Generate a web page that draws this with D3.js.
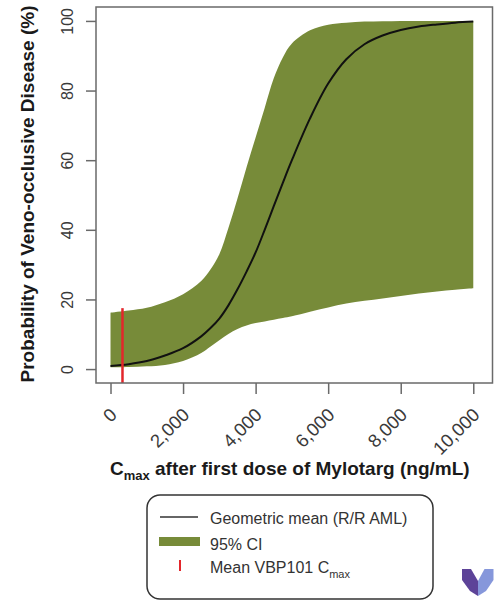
<!DOCTYPE html>
<html>
<head>
<meta charset="utf-8">
<script src="https://cdn.jsdelivr.net/npm/d3@7/dist/d3.min.js"></script>
<style>
  html, body { margin: 0; padding: 0; background: #fff; }
  svg { display: block; font-family: "Liberation Sans", Arial, sans-serif; }
</style>
</head>
<body>
<svg id="chart" width="503" height="601"></svg>
<script>
// ---- data ----
const cmaxValues = [0, 500, 1000, 1500, 2000, 2500, 2750, 3000, 3250, 3500, 3750, 4000, 4250, 4500, 4750, 5000, 5500, 6000, 6500, 7000, 7500, 8000, 8500, 9000, 9500, 10000];
const meanProb   = [0.9, 1.4, 2.3, 3.9, 6.0, 9.4, 11.7, 14.5, 18.3, 22.9, 28.0, 33.5, 40.0, 46.8, 53.5, 60.0, 72.0, 82.0, 89.0, 93.3, 95.8, 97.4, 98.4, 99.0, 99.5, 99.8];
const upperCI    = [16.2, 16.8, 17.6, 19.2, 21.5, 25.3, 28.5, 33.0, 40.5, 49.0, 58.0, 66.5, 75.0, 83.5, 89.5, 93.5, 97.3, 98.9, 99.5, 99.8, 99.9, 100, 100, 100, 100, 100];
const lowerCI    = [0.5, 0.6, 0.8, 1.2, 2.3, 4.6, 6.4, 8.3, 10.1, 11.5, 12.5, 13.2, 13.7, 14.2, 14.7, 15.2, 16.5, 17.7, 18.8, 19.6, 20.3, 21.0, 21.7, 22.3, 22.8, 23.2];
const vbpCmax = 330;          // mean VBP101 Cmax (ng/mL)
const vbpMarkRange = [-4, 17.5];
const xTicks = [0, 2000, 4000, 6000, 8000, 10000];
const yTicks = [0, 20, 40, 60, 80, 100];
const legendLabels = ["Geometric mean (R/R AML)", "95% CI", "Mean VBP101 C"];

// ---- layout ----
const svg = d3.select("#chart");
const box = { left: 96, right: 492.5, top: 7, bottom: 383 };
const x = d3.scaleLinear().domain([-400, 10530]).range([box.left, box.right]);
const y = d3.scaleLinear().domain([-4, 104]).range([box.bottom, box.top]);
const green = "#778b39";

const rows = cmaxValues.map((c, i) => ({ c, m: meanProb[i], lo: lowerCI[i], hi: upperCI[i] }));

// CI band
svg.append("path")
  .datum(rows)
  .attr("fill", green)
  .attr("d", d3.area().curve(d3.curveCatmullRom.alpha(0.5))
    .x(d => x(d.c)).y0(d => y(d.lo)).y1(d => y(Math.min(100, d.hi))));

// mean line
svg.append("path")
  .datum(rows)
  .attr("fill", "none")
  .attr("stroke", "#111")
  .attr("stroke-width", 2)
  .attr("d", d3.line().curve(d3.curveCatmullRom.alpha(0.5)).x(d => x(d.c)).y(d => y(d.m)));

// red marker
svg.append("line")
  .attr("x1", x(vbpCmax)).attr("x2", x(vbpCmax))
  .attr("y1", y(vbpMarkRange[0])).attr("y2", y(vbpMarkRange[1]))
  .attr("stroke", "#e3262b").attr("stroke-width", 2.5);

// plot box
svg.append("rect")
  .attr("x", box.left).attr("y", box.top)
  .attr("width", box.right - box.left).attr("height", box.bottom - box.top)
  .attr("fill", "none").attr("stroke", "#6a6a6a").attr("stroke-width", 1.5);

// x axis
const xAxis = svg.append("g")
  .attr("transform", `translate(0,${box.bottom})`)
  .call(d3.axisBottom(x).tickValues(xTicks).tickSize(11).tickFormat(d3.format(",")));
xAxis.select(".domain").remove();
xAxis.selectAll(".tick line").attr("stroke", "#6a6a6a").attr("stroke-width", 1.5);
xAxis.selectAll(".tick text")
  .attr("fill", "#3a3a3a").attr("font-size", 18.5)
  .attr("text-anchor", "end")
  .attr("y", null).attr("dy", null)
  .attr("transform", "translate(7,33) rotate(-45)");

// y axis
const yAxis = svg.append("g")
  .attr("transform", `translate(${box.left},0)`)
  .call(d3.axisLeft(y).tickValues(yTicks).tickSize(10));
yAxis.select(".domain").remove();
yAxis.selectAll(".tick line").attr("stroke", "#6a6a6a").attr("stroke-width", 1.5);
yAxis.selectAll(".tick text")
  .attr("fill", "#3a3a3a").attr("font-size", 16)
  .attr("text-anchor", "middle")
  .attr("x", null).attr("dy", null)
  .attr("transform", "translate(-23,0) rotate(-90)");

// axis titles
svg.append("text")
  .attr("transform", "translate(34,194) rotate(-90)")
  .attr("text-anchor", "middle")
  .attr("font-weight", "bold").attr("font-size", 19).attr("fill", "#1a1a1a")
  .text("Probability of Veno-occlusive Disease (%)");

const xt = svg.append("text")
  .attr("x", 110).attr("y", 475)
  .attr("font-weight", "bold").attr("font-size", 19).attr("fill", "#1a1a1a");
xt.append("tspan").text("C");
xt.append("tspan").attr("font-size", 13).attr("dy", 5).text("max");
xt.append("tspan").attr("dy", -5).text(" after first dose of Mylotarg (ng/mL)");

// legend
const lg = svg.append("g");
lg.append("rect")
  .attr("x", 147).attr("y", 495).attr("width", 286).attr("height", 104)
  .attr("rx", 13).attr("fill", "#fff").attr("stroke", "#333").attr("stroke-width", 1.5);
lg.append("line").attr("x1", 160).attr("x2", 198).attr("y1", 517).attr("y2", 517)
  .attr("stroke", "#333").attr("stroke-width", 1.5);
lg.append("rect").attr("x", 159).attr("y", 537).attr("width", 41).attr("height", 9).attr("fill", green);
lg.append("line").attr("x1", 180).attr("x2", 180).attr("y1", 560).attr("y2", 571)
  .attr("stroke", "#e3262b").attr("stroke-width", 2);
const ly = [523.5, 550, 573];
legendLabels.forEach((t, i) => {
  const tx = lg.append("text").attr("x", 210).attr("y", ly[i])
    .attr("font-size", 16).attr("fill", "#333").text(t);
  if (i === 2) tx.append("tspan").attr("font-size", 11).attr("dy", 5).text("max");
});

// logo
const logo = svg.append("g");
logo.append("path").attr("d", "M462,569 L471,569 L478,581 L478,596 L470,591 L462,580 Z").attr("fill", "#5d4398");
logo.append("path").attr("d", "M484.5,569 L493.5,569 L493.5,580 L486,591 L478,596 L478,581 Z").attr("fill", "#8697db");
</script>
</body>
</html>
